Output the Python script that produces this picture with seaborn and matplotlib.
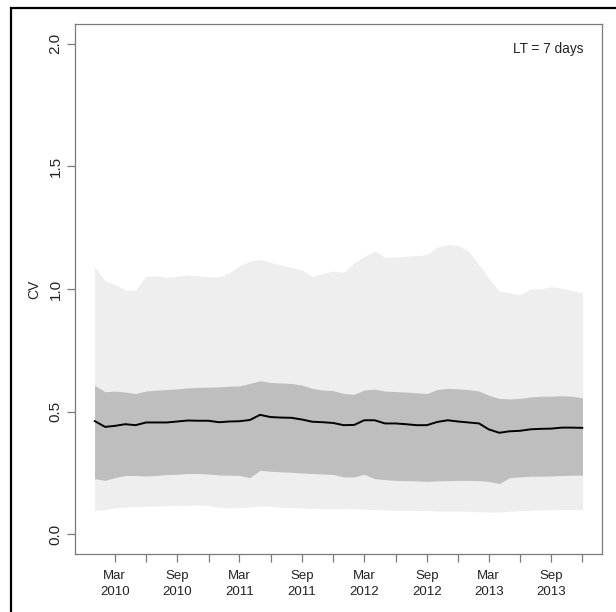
import numpy as np
import pandas as pd
import matplotlib
matplotlib.use("Agg")
import matplotlib.pyplot as plt
import matplotlib.dates as mdates
from matplotlib.ticker import FixedLocator
from matplotlib.patches import Rectangle
import seaborn as sns

# monthly CV summary, Jan 2010 - Dec 2013
months = pd.date_range("2010-01-01", periods=48, freq="MS")

cv_median = [0.462, 0.438, 0.442, 0.449, 0.445, 0.456, 0.456, 0.456, 0.460, 0.464,
             0.463, 0.463, 0.457, 0.460, 0.461, 0.466, 0.487, 0.478, 0.476, 0.475,
             0.468, 0.459, 0.457, 0.454, 0.445, 0.446, 0.465, 0.465, 0.452, 0.452,
             0.449, 0.445, 0.445, 0.458, 0.465, 0.460, 0.456, 0.452, 0.428, 0.414,
             0.420, 0.422, 0.428, 0.430, 0.431, 0.435, 0.435, 0.434]

inner_hi = [0.608, 0.581, 0.584, 0.580, 0.574, 0.584, 0.588, 0.590, 0.593, 0.597,
            0.599, 0.600, 0.601, 0.604, 0.605, 0.615, 0.626, 0.619, 0.617, 0.615,
            0.608, 0.595, 0.588, 0.586, 0.574, 0.571, 0.588, 0.592, 0.584, 0.582,
            0.580, 0.577, 0.574, 0.590, 0.595, 0.593, 0.590, 0.584, 0.567, 0.554,
            0.552, 0.554, 0.560, 0.563, 0.563, 0.565, 0.563, 0.556]

inner_lo = [0.227, 0.220, 0.231, 0.240, 0.240, 0.238, 0.240, 0.244, 0.245, 0.248,
            0.248, 0.246, 0.242, 0.241, 0.240, 0.231, 0.261, 0.257, 0.255, 0.253,
            0.250, 0.248, 0.246, 0.244, 0.234, 0.234, 0.245, 0.227, 0.223, 0.220,
            0.219, 0.218, 0.216, 0.218, 0.219, 0.220, 0.220, 0.219, 0.216, 0.207,
            0.231, 0.234, 0.237, 0.237, 0.238, 0.240, 0.241, 0.241]

outer_hi = [1.091, 1.033, 1.019, 0.995, 0.996, 1.053, 1.053, 1.048, 1.052, 1.057,
            1.054, 1.050, 1.050, 1.067, 1.095, 1.113, 1.121, 1.107, 1.098, 1.088,
            1.078, 1.050, 1.064, 1.073, 1.068, 1.107, 1.132, 1.155, 1.129, 1.130,
            1.133, 1.136, 1.140, 1.170, 1.181, 1.178, 1.154, 1.098, 1.044, 0.992,
            0.985, 0.976, 1.000, 1.000, 1.010, 1.003, 0.993, 0.985]

outer_lo = [0.098, 0.101, 0.108, 0.111, 0.113, 0.114, 0.116, 0.117, 0.118, 0.118,
            0.120, 0.117, 0.111, 0.108, 0.109, 0.111, 0.116, 0.114, 0.110, 0.109,
            0.108, 0.106, 0.105, 0.105, 0.105, 0.104, 0.102, 0.101, 0.100, 0.098,
            0.098, 0.097, 0.097, 0.095, 0.095, 0.095, 0.094, 0.092, 0.091, 0.091,
            0.094, 0.097, 0.098, 0.100, 0.100, 0.101, 0.101, 0.101]

df = pd.DataFrame({"month": months, "cv": cv_median})

sns.set_style("white")
plt.rcParams['font.family'] = ['Liberation Sans', 'DejaVu Sans']
axis_col = "#7a7a7a"
text_col = "#222222"

fig = plt.figure(figsize=(6.16, 6.12), dpi=100)
ax = fig.add_axes([0.1218, 0.0948, 0.8555, 0.866])

ax.fill_between(months, outer_lo, outer_hi, color="#eeeeee", lw=0)
ax.fill_between(months, inner_lo, inner_hi, color="#bebebe", lw=0)
sns.lineplot(data=df, x="month", y="cv", color="black", lw=1.4, ax=ax)

# R-style 4% padding
span = months[-1] - months[0]
ax.set_xlim(months[0] - span * 0.04, months[-1] + span * 0.04)
ax.set_ylim(-0.08, 2.08)
ax.set_yticks([0.0, 0.5, 1.0, 1.5, 2.0])
ax.set_yticklabels(["0.0", "0.5", "1.0", "1.5", "2.0"], rotation=90, va="center")

# quarterly ticks inside the data range, Mar/Sep labelled
major = [m for m in months if m.month in (3, 9)]
minor = [m for m in months if m.month in (6, 12)]
ax.xaxis.set_major_locator(FixedLocator(mdates.date2num(major)))
ax.xaxis.set_minor_locator(FixedLocator(mdates.date2num(minor)))
ax.xaxis.set_major_formatter(mdates.DateFormatter("%b\n%Y"))
for lab in ax.get_xticklabels():
    lab.set_linespacing(1.4)

ax.tick_params(axis="both", which="both", direction="out", length=5.5, width=0.9,
               color=axis_col, labelcolor=text_col, pad=6)
ax.tick_params(axis="x", labelsize=9.5)
ax.tick_params(axis="y", labelsize=11, pad=3.5)
ax.tick_params(axis="both", which="both", bottom=True, left=True)
for s in ax.spines.values():
    s.set_color(axis_col)
    s.set_linewidth(0.9)

ax.set_xlabel("")
ax.set_ylabel("CV", fontsize=10, color=text_col, labelpad=5)
ax.text(0.965, 0.952, "LT = 7 days", transform=ax.transAxes, ha="right", va="center",
        fontsize=9.8, color=text_col)

# outer frame of the original panel (cut at right and bottom)
fig.patches.append(Rectangle((0.0179, -0.1), 1.2, 0.9877 + 0.1, fill=False,
                             lw=1.6, edgecolor="black", transform=fig.transFigure))

fig.savefig("out.png", dpi=100)
